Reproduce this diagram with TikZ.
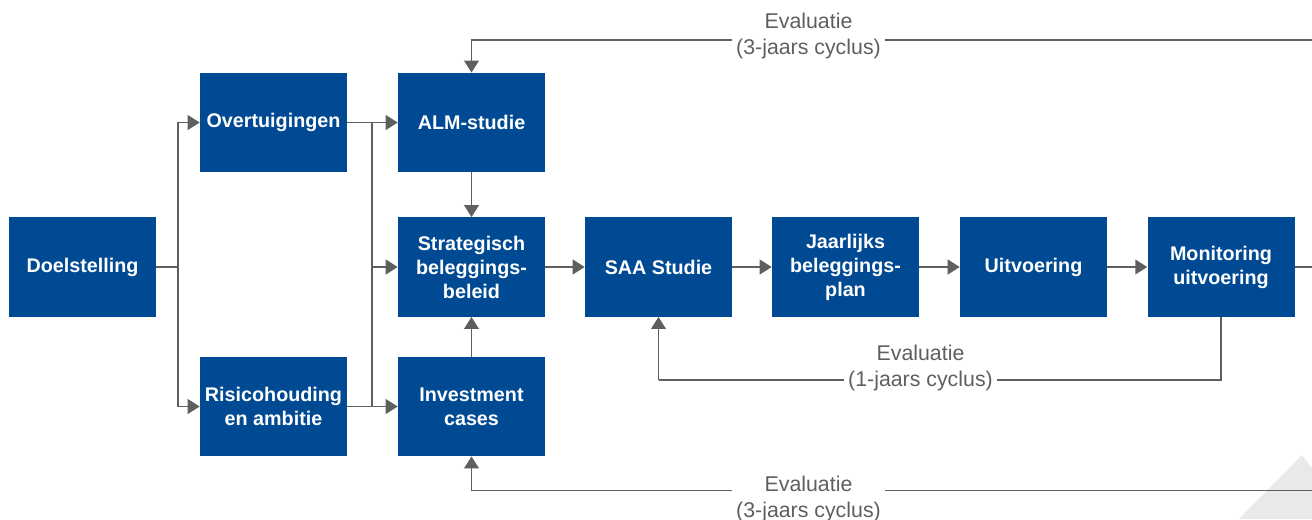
\documentclass[tikz,border=0pt]{standalone}
\usepackage{fontspec}
\setmainfont{Liberation Sans}
\usetikzlibrary{arrows.meta,calc,positioning}
\definecolor{boxblue}{RGB}{0,74,147}
\definecolor{linegray}{RGB}{95,95,95}
\definecolor{cornergray}{RGB}{233,233,233}
\tikzset{
    stage/.style={fill=boxblue, text=white, align=center, inner sep=2pt,
        minimum width=110.25pt, minimum height=74.5pt,
        font=\fontsize{14.8}{18}\selectfont\bfseries},
    link/.style={draw=linegray, line width=1.4pt},
    flow/.style={link, -{Triangle[length=9pt,width=11pt]}},
    evalnote/.style={fill=white, text=linegray, align=center,
        inner xsep=3pt, inner ysep=1pt,
        font=\fontsize{16}{19.5}\selectfont}
}

\begin{document}
\begin{tikzpicture}[x=0.75pt,y=-0.75pt]

    \useasboundingbox (0,0) rectangle (1312,519);

    % Corner decoration.
    \fill[cornergray] (1239,519) -- (1302,455) -- (1312,468) -- (1312,519) -- cycle;

    % Stages.
    \node[stage] (doel)   at (82.5,267)    {Doelstelling};
    \node[stage] (overt)  at (273.5,122.5) {Overtuigingen};
    \node[stage] (risico) at (273.5,406.5) {Risicohouding\\en ambitie};
    \node[stage] (alm)    at (471.5,122.5) {ALM-studie};
    \node[stage] (strat)  at (471.5,267)   {Strategisch\\beleggings-\\beleid};
    \node[stage] (invest) at (471.5,406.5) {Investment\\cases};
    \node[stage] (saa)    at (658.5,267)   {SAA Studie};
    \node[stage] (jaar)   at (845.5,267)   {Jaarlijks\\beleggings-\\plan};
    \node[stage] (uitv)   at (1033.5,267)  {Uitvoering};
    \node[stage] (monit)  at (1221,267)    {Monitoring\\uitvoering};

    % Splits and bus.
    \coordinate (split) at (178,267);
    \coordinate (busT)  at (372,122.5);
    \coordinate (busB)  at (372,406.5);
    \draw[link] (doel) -- (split);
    \draw[flow] (split) |- (overt);
    \draw[flow] (split) |- (risico);
    \draw[link] (overt) -- (busT) -- (busB);
    \draw[link] (risico) -- (busB);
    \draw[flow] (busT) -- (alm);
    \draw[flow] (busB) -- (invest);
    \draw[flow] (busT |- strat) -- (strat);
    \draw[flow] (alm) -- (strat);
    \draw[flow] (invest) -- (strat);

    % Main chain.
    \foreach \a/\b in {strat/saa,saa/jaar,jaar/uitv,uitv/monit}
        \draw[flow] (\a) -- (\b);
    \coordinate (outR) at (1312,267);
    \draw[link] (monit) -- (outR);

    % Evaluation loops.
    \coordinate (topR)  at (1312,40);
    \coordinate (botR)  at (1312,490.5);
    \coordinate (yearL) at (658.5,380);
    \draw[flow] (topR) -| (alm);
    \draw[flow] (botR) -| (invest);
    \draw[link] (monit) |- (yearL);
    \draw[flow] (yearL) -- (saa);
    \node[evalnote] (evalT) at (808.5,36)  {Evaluatie\\(3-jaars cyclus)};
    \node[evalnote] (evalY) at (920.5,367.5) {Evaluatie\\(1-jaars cyclus)};
    \node[evalnote] (evalB) at (808.5,498.5) {Evaluatie\\(3-jaars cyclus)};

\end{tikzpicture}
\end{document}
